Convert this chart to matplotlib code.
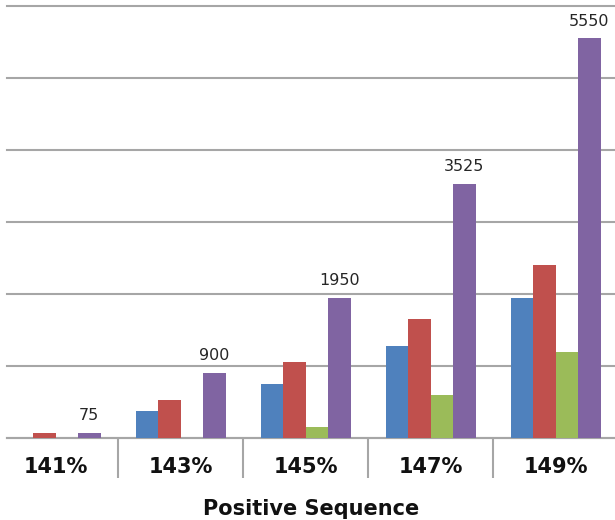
import numpy as np
import matplotlib.pyplot as plt

categories = ['141%', '143%', '145%', '147%', '149%']
blue_vals = [0, 375, 750, 1275, 1950]
red_vals = [75, 525, 1050, 1650, 2400]
green_vals = [0, 0, 150, 600, 1200]
purple_vals = [75, 900, 1950, 3525, 5550]

series = [blue_vals, red_vals, green_vals, purple_vals]
colors = ['#4F81BD', '#C0504D', '#9BBB59', '#8064A2']

fig = plt.figure(figsize=(6.15, 5.2), dpi=100)
ax = fig.add_axes([7 / 615, 82 / 520, 608 / 615, 432 / 520])

x = np.arange(len(categories))
w = 0.18
for i, (vals, c) in enumerate(zip(series, colors)):
    bars = ax.bar(x + (i - 1.5) * w, vals, w, color=c, zorder=3)
    if i == 3:
        for b, v in zip(bars, vals):
            ax.annotate(str(v), (b.get_x() + b.get_width() / 2, v),
                        xytext=(0, 7), textcoords='offset points',
                        ha='center', va='bottom', fontsize=11.5, color='#262626')

ax.set_xlim(-0.5 + 14 / 125, 4.5 - 3 / 125)
ax.set_ylim(0, 6000)
ax.set_yticks(np.arange(0, 6001, 1000))
ax.yaxis.grid(True, color='#a6a6a6', linewidth=1.5, zorder=0)
for gl in ax.get_ygridlines():
    gl.set_clip_on(False)
ax.tick_params(axis='y', left=False, labelleft=False)

for s in ['top', 'right', 'left']:
    ax.spines[s].set_visible(False)
ax.spines['bottom'].set_color('#a6a6a6')
ax.spines['bottom'].set_linewidth(1.5)

ax.set_xticks(x)
ax.set_xticklabels(categories, fontsize=15, fontweight='bold', color='#111111')
ax.tick_params(axis='x', which='major', length=0, pad=14)
ax.set_xticks(np.arange(0.5, 4.0, 1.0), minor=True)
ax.tick_params(axis='x', which='minor', length=29, width=1.5, color='#a6a6a6')
ax.set_xlabel('Positive Sequence', fontsize=15, fontweight='bold', color='#111111', labelpad=11.5)

fig.savefig('out.png', dpi=100)
